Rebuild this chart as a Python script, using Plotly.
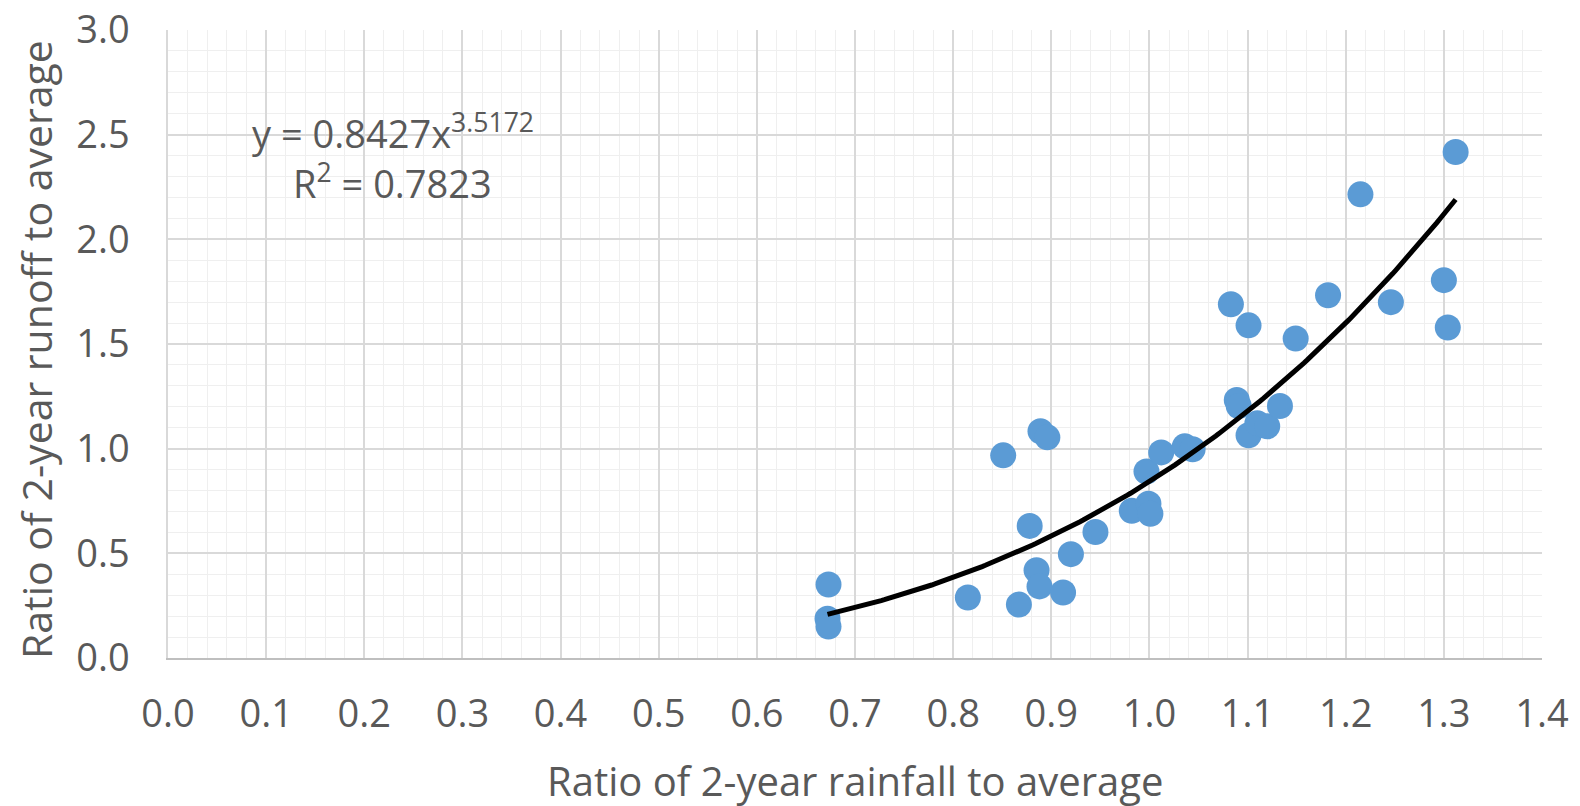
import plotly.graph_objects as go
import numpy as np

# Observed points (ratio of 2-year rainfall to average, ratio of 2-year runoff to average)
rain_ratio = [0.673, 0.672, 0.673, 0.815, 0.851, 0.867, 0.878, 0.885, 0.888, 0.889,
              0.896, 0.912, 0.920, 0.945, 0.982, 0.999, 1.001, 0.997, 1.012, 1.036,
              1.044, 1.083, 1.089, 1.091, 1.101, 1.101, 1.110, 1.120, 1.133, 1.149,
              1.182, 1.215, 1.246, 1.300, 1.304, 1.312]
runoff_ratio = [0.351, 0.188, 0.150, 0.289, 0.968, 0.255, 0.631, 0.419, 0.342, 1.083,
                1.054, 0.313, 0.496, 0.602, 0.703, 0.737, 0.689, 0.891, 0.982, 1.011,
                0.997, 1.690, 1.233, 1.204, 1.589, 1.064, 1.122, 1.107, 1.204, 1.526,
                1.733, 2.215, 1.700, 1.805, 1.579, 2.417]

# Power trendline coefficients as shown on chart
coef_a = 0.8427
coef_b = 3.5172
r2 = 0.7823

x_ticks = [round(0.1 * i, 1) for i in range(15)]
y_ticks = [0.0, 0.5, 1.0, 1.5, 2.0, 2.5, 3.0]

xt = np.linspace(min(rain_ratio), max(rain_ratio), 200)
yt = coef_a * xt ** coef_b

FONT = "Open Sans"
GRAY = "#595959"

fig = go.Figure()
fig.add_trace(go.Scatter(x=rain_ratio, y=runoff_ratio, mode="markers",
                         marker=dict(color="#5B9BD5", size=26, line=dict(width=0)),
                         showlegend=False))
fig.add_trace(go.Scatter(x=xt, y=yt, mode="lines",
                         line=dict(color="black", width=5), showlegend=False))

fig.add_annotation(x=0.229, y=2.515, xref="x", yref="y",
                   text=f"y = {coef_a}x<sup>{coef_b}</sup>", showarrow=False,
                   font=dict(family=FONT, size=38, color=GRAY))
fig.add_annotation(x=0.229, y=2.275, xref="x", yref="y",
                   text=f"R<sup>2</sup> = {r2}", showarrow=False,
                   font=dict(family=FONT, size=38, color=GRAY))

# Axis titles
fig.add_annotation(x=0.5, y=0, xref="paper", yref="paper", yshift=-122,
                   xanchor="center", yanchor="middle", showarrow=False,
                   text="Ratio of 2-year rainfall to average",
                   font=dict(family=FONT, size=40, color=GRAY))
fig.add_annotation(x=0, y=0.5, xref="paper", yref="paper", xshift=-132, yshift=-6,
                   xanchor="center", yanchor="middle", showarrow=False, textangle=-90,
                   text="Ratio of 2-year runoff to average",
                   font=dict(family=FONT, size=41, color=GRAY))

fig.update_layout(
    width=1580, height=806,
    margin=dict(l=160, r=46, t=22, b=156),
    paper_bgcolor="white", plot_bgcolor="white",
    font=dict(family=FONT, color=GRAY),
    xaxis=dict(range=[0, 1.4], tickvals=x_ticks, ticktext=[f"{v:.1f}" for v in x_ticks],
               automargin=False, ticklabeloverflow="allow",
               showgrid=True, gridcolor="#d9d9d9", gridwidth=1.5,
               minor=dict(dtick=0.02, showgrid=True, gridcolor="#efefef", gridwidth=1),
               showline=True, linecolor="#bfbfbf", linewidth=2, zeroline=False,
               tickfont=dict(family=FONT, size=38, color=GRAY), ticklabelstandoff=21),
    yaxis=dict(range=[0, 3.0], tickvals=y_ticks, ticktext=[f"{v:.1f}" for v in y_ticks],
               automargin=False, ticklabeloverflow="allow",
               showgrid=True, gridcolor="#d9d9d9", gridwidth=1.5,
               minor=dict(dtick=0.1, showgrid=True, gridcolor="#efefef", gridwidth=1),
               showline=True, linecolor="#d9d9d9", linewidth=1.5, zeroline=False,
               tickfont=dict(family=FONT, size=38, color=GRAY), ticklabelstandoff=29),
)

fig.write_html("out.html")
